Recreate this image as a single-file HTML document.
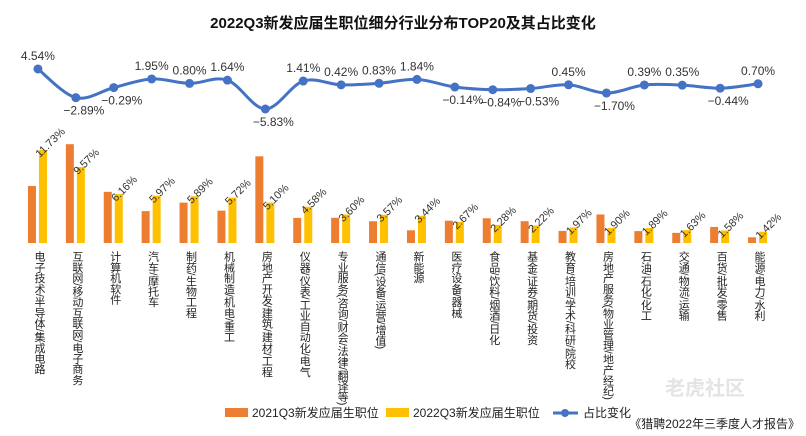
<!DOCTYPE html>
<html><head><meta charset="utf-8">
<style>
body{margin:0;background:#fff;font-family:"Liberation Sans","Noto Sans CJK SC",sans-serif;}
#wrap{position:relative;width:806px;height:436px;overflow:hidden;background:#fff}
.cat{position:absolute;top:251px;writing-mode:vertical-rl;font-size:11px;line-height:11px;letter-spacing:-0.3px;color:#222;white-space:nowrap;transform:translateX(-5px)}
</style></head><body>
<div id="wrap">
<svg id="svg" width="806" height="436" style="position:absolute;left:0;top:0">
<text x="403" y="28" text-anchor="middle" font-size="15" font-weight="bold" fill="#111" font-family="Liberation Sans, Noto Sans CJK SC, sans-serif">2022Q3新发应届生职位细分行业分布TOP20及其占比变化</text>
<g id="bars"></g><g id="line"></g><g id="labels"></g>
<text x="665" y="395" font-size="20" font-weight="bold" fill="#e4e4e4">老虎社区</text>
<rect x="225" y="408" width="23" height="9" fill="#ED7D31"/>
<text x="252" y="417" font-size="12" fill="#222">2021Q3新发应届生职位</text>
<rect x="386" y="408" width="23" height="9" fill="#FFC000"/>
<text x="413" y="417" font-size="12" fill="#222">2022Q3新发应届生职位</text>
<line x1="553" y1="413" x2="578" y2="413" stroke="#4472C4" stroke-width="3"/>
<circle cx="565" cy="413" r="4" fill="#4472C4"/>
<text x="583" y="417" font-size="12" fill="#222">占比变化</text>
<text x="800" y="428" text-anchor="end" font-size="12" fill="#222">《猎聘2022年三季度人才报告》</text>
</svg>
<div id="cats"></div>
</div>
<script>
const categories=["电子技术/半导体/集成电路","互联网/移动互联网/电子商务","计算机软件","汽车/摩托车","制药/生物工程","机械制造/机电/重工","房地产开发/建筑/建材/工程","仪器/仪表/工业自动化/电气","专业服务(咨询/财会/法律/翻译等)","通信(设备/运营/增值)","新能源","医疗设备/器械","食品/饮料/烟酒/日化","基金/证券/期货/投资","教育/培训/学术/科研/院校","房地产服务(物业管理/地产经纪)","石油/石化/化工","交通/物流/运输","百货/批发/零售","能源/电力/水利"];
const values2021=[7.19,12.46,6.45,4.02,5.09,4.08,10.93,3.17,3.18,2.74,1.60,2.81,3.12,2.75,1.52,3.60,1.50,1.28,2.02,0.72];
const values2022=[11.73,9.57,6.16,5.97,5.89,5.72,5.10,4.58,3.60,3.57,3.44,2.67,2.28,2.22,1.97,1.90,1.89,1.63,1.58,1.42];
const change=[4.54,-2.89,-0.29,1.95,0.80,1.64,-5.83,1.41,0.42,0.83,1.84,-0.14,-0.84,-0.53,0.45,-1.70,0.39,0.35,-0.44,0.70];
const NS="http://www.w3.org/2000/svg";
const x0=19,step=37.9,base=243,bs=7.93,zero=86.5,ls=3.86;
const cx=i=>x0+step*(i+0.5);
const yb=v=>base-v*bs;
const yl=v=>zero-v*ls;
function mk(tag,attrs,parent){const e=document.createElementNS(NS,tag);for(const k in attrs)e.setAttribute(k,attrs[k]);parent.appendChild(e);return e;}
const gb=document.getElementById('bars'),gl=document.getElementById('line'),glab=document.getElementById('labels');
const cats=document.getElementById('cats');
categories.forEach((c,i)=>{
  const a=mk('rect',{x:cx(i)-10,y:yb(values2021[i]),width:8,height:values2021[i]*bs,fill:'#ED7D31'},gb);
  
  
  const b=mk('rect',{x:cx(i)+1,y:yb(values2022[i]),width:8,height:values2022[i]*bs,fill:'#FFC000'},gb);
  
  
  const tx=cx(i)+2,ty=yb(values2022[i])+8;
  const t=mk('text',{x:tx,y:ty,'font-size':11,fill:'#333',transform:`rotate(-45 ${tx} ${ty})`},glab);
  t.textContent=values2022[i].toFixed(2)+'%';
  
  
  const d=document.createElement('div');
  d.className='cat';d.style.left=cx(i)+'px';d.textContent=c;
  
  
  cats.appendChild(d);
});
const pts=change.map((v,i)=>[cx(i),yl(v)]);
let dp=`M${pts[0][0]},${pts[0][1]}`;
for(let i=0;i<pts.length-1;i++){
  const p0=pts[Math.max(0,i-1)],p1=pts[i],p2=pts[i+1],p3=pts[Math.min(pts.length-1,i+2)];
  const c1=[p1[0]+(p2[0]-p0[0])/6,p1[1]+(p2[1]-p0[1])/6],c2=[p2[0]-(p3[0]-p1[0])/6,p2[1]-(p3[1]-p1[1])/6];
  dp+=` C${c1[0]},${c1[1]} ${c2[0]},${c2[1]} ${p2[0]},${p2[1]}`;
}
const path=mk('path',{d:dp,fill:'none',stroke:'#4472C4','stroke-width':3},gl);


change.forEach((v,i)=>{
  const c=mk('circle',{cx:cx(i),cy:yl(v),r:4.5,fill:'#4472C4'},gl);
  
  
  const ty=v>=0?yl(v)-9:yl(v)+17;
  const t=mk('text',{x:cx(i)+(v<0?8:0),y:ty,'text-anchor':'middle','font-size':12,fill:'#333'},gl);
  t.textContent=v.toFixed(2).replace('-','−')+'%';
  
  
});
</script>
</body></html>
